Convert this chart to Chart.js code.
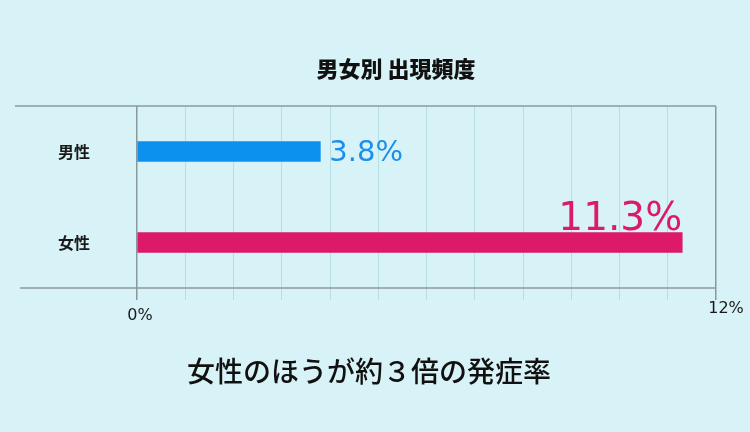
<!DOCTYPE html>
<html>
<head>
<meta charset="utf-8">
<script src="https://cdn.jsdelivr.net/npm/chart.js"></script>
<style>
  html, body { margin: 0; padding: 0; background: #d8f3f7; }
</style>
</head>
<body>
<canvas id="c" width="750" height="432"></canvas>
<script>
const categories = ['男性', '女性'];
const rates = [3.8, 11.3];
const barColors = ['#0d91ef', '#dc1a68'];
const labelColors = ['#1a90ea', '#dc1a68'];
const valueLabels = ['3.8%', '11.3%'];
const axisMax = 12;
const edgeTickLabels = ['0%', '12%'];
const chartTitle = '男女別 出現頻度';
const caption = '女性のほうが約３倍の発症率';

const jp = '"Noto Sans CJK JP", "Noto Sans", sans-serif';

const decor = {
    id: 'decor',
    beforeDraw(chart) {
        const ctx = chart.ctx;
        ctx.save();
        ctx.fillStyle = '#d8f3f7';
        ctx.fillRect(0, 0, chart.width, chart.height);
        ctx.restore();
    },
    afterDraw(chart) {
        const ctx = chart.ctx;
        const a = chart.chartArea;
        const x = chart.scales.x;
        ctx.save();

        // table style lines at top and bottom
        ctx.strokeStyle = '#8a9a9c';
        ctx.lineWidth = 1.5;
        ctx.beginPath();
        ctx.moveTo(15, a.top);
        ctx.lineTo(a.right, a.top);
        ctx.moveTo(20, a.bottom);
        ctx.lineTo(a.right, a.bottom);
        ctx.stroke();

        // 0% and 12% labels
        ctx.fillStyle = '#1a1a1a';
        ctx.font = '16px "DejaVu Sans", sans-serif';
        ctx.textAlign = 'center';
        ctx.textBaseline = 'middle';
        ctx.fillText(edgeTickLabels[0], x.getPixelForValue(0) + 3, a.bottom + 28);
        ctx.fillText(edgeTickLabels[1], x.getPixelForValue(axisMax) + 10, a.bottom + 21);

        // value labels next to the bars
        const meta = chart.getDatasetMeta(0);
        const b0 = meta.data[0];
        ctx.fillStyle = labelColors[0];
        ctx.font = '29px "DejaVu Sans", sans-serif';
        ctx.textAlign = 'left';
        ctx.textBaseline = 'middle';
        ctx.fillText(valueLabels[0], b0.x + 9, b0.y + 2);

        const b1 = meta.data[1];
        ctx.fillStyle = labelColors[1];
        ctx.font = '39px "DejaVu Sans", sans-serif';
        ctx.textAlign = 'right';
        ctx.textBaseline = 'alphabetic';
        ctx.fillText(valueLabels[1], b1.x, b1.y - b1.height / 2 - 3);

        // title and caption
        ctx.fillStyle = '#111';
        ctx.textAlign = 'center';
        ctx.textBaseline = 'middle';
        ctx.font = '900 22px ' + jp;
        ctx.fillText(chartTitle, 396, 69);
        ctx.font = '500 28px ' + jp;
        ctx.fillText(caption, 369, 371);

        ctx.restore();
    }
};

new Chart(document.getElementById('c'), {
    type: 'bar',
    data: {
        labels: categories,
        datasets: [{
            data: rates,
            backgroundColor: barColors,
            borderWidth: 0,
            barThickness: 20
        }]
    },
    options: {
        indexAxis: 'y',
        responsive: false,
        animation: false,
        layout: { padding: { top: 106, right: 34, left: 0, bottom: 0 } },
        plugins: {
            legend: { display: false },
            tooltip: { enabled: false }
        },
        scales: {
            x: {
                min: 0,
                max: axisMax,
                ticks: { stepSize: 1, display: false },
                border: { display: false },
                grid: {
                    color: c => (c.tick && (c.tick.value === 0 || c.tick.value === axisMax)) ? '#8a9a9c' : '#b6dfe4',
                    tickColor: c => (c.tick && (c.tick.value === 0 || c.tick.value === axisMax)) ? '#8a9a9c' : '#b6dfe4',
                    lineWidth: c => (c.tick && (c.tick.value === 0 || c.tick.value === axisMax)) ? 1.5 : 1,
                    drawTicks: true,
                    tickLength: 12
                },
                afterFit: s => { s.height = 144; }
            },
            y: {
                grid: { display: false, drawTicks: false },
                border: { display: false },
                ticks: {
                    color: '#1a1a1a',
                    font: { family: jp, size: 16, weight: 'bold' },
                    padding: 47
                },
                afterFit: s => { s.width = 137; }
            }
        }
    },
    plugins: [decor]
});
</script>
</body>
</html>
